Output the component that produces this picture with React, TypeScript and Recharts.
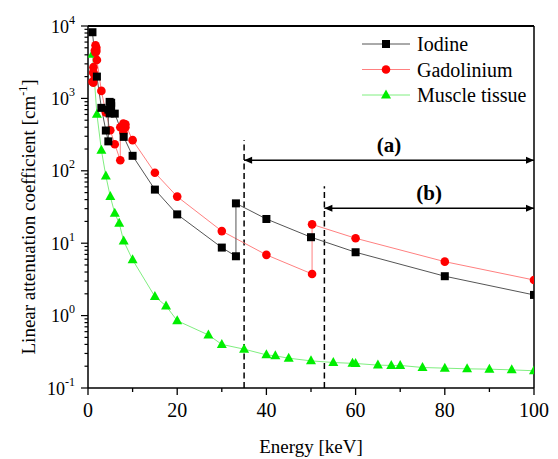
import { ComposedChart, Line, XAxis, YAxis, ReferenceLine } from "recharts";

// energies in keV, attenuation in cm^-1
const iodineE = [1, 2, 3, 4, 4.56, 4.56, 4.85, 4.85, 5.19, 5.19, 6, 8, 10, 15, 20, 30, 33.17, 33.17, 40, 50, 60, 80, 100];
const iodineMu = [8200, 2000, 740, 360, 255, 700, 620, 895, 780, 870, 616, 294, 161, 55, 25, 8.7, 6.6, 35.5, 21.6, 12.1, 7.5, 3.5, 1.93];

const gadoE = [1, 1.19, 1.19, 1.22, 1.22, 1.54, 1.54, 1.69, 1.69, 1.88, 1.88, 2, 3, 4, 5, 6, 7.24, 7.24, 7.93, 7.93, 8.38, 8.38, 10, 15, 20, 30, 40, 50.24, 50.24, 60, 80, 100];
const gadoMu = [1700, 1650, 2300, 2250, 2700, 2000, 4600, 4300, 5400, 4500, 5000, 3400, 1270, 640, 364, 233, 140, 400, 340, 450, 400, 440, 265, 94, 44, 14.7, 6.9, 3.76, 18.2, 11.7, 5.56, 3.1];

const muscleE = [1, 2, 3, 4, 5, 6, 7, 8, 10, 15, 17.5, 20, 27, 30, 35, 40, 42, 45, 50, 55, 59.3, 60, 65, 68, 70, 75, 80, 85, 90, 95, 100];
const muscleMu = [4080, 605, 193, 85, 44, 26, 18.8, 10.7, 5.9, 1.83, 1.36, 0.85, 0.54, 0.4, 0.344, 0.287, 0.278, 0.258, 0.237, 0.225, 0.219, 0.218, 0.207, 0.205, 0.205, 0.192, 0.188, 0.184, 0.182, 0.178, 0.173];

const xTicks = [0, 10, 20, 30, 40, 50, 60, 70, 80, 90, 100];
const yDecades = [-1, 0, 1, 2, 3];
const yTicks: number[] = [];
yDecades.forEach((d) => {
  for (let m = 1; m <= 9; m++) yTicks.push(m * Math.pow(10, d));
});
yTicks.push(10000);

const edgeA = 35;
const edgeB = 53;

const toRows = (e: number[], mu: number[]) => e.map((v, i) => ({ e: v, mu: mu[i] }));
const iodine = toRows(iodineE, iodineMu);
const gado = toRows(gadoE, gadoMu);
const muscle = toRows(muscleE, muscleMu);

const FONT = '"Liberation Serif", "Times New Roman", serif';

const XTick = (p: any) => {
  const { x, y, payload } = p;
  const major = payload.value % 20 === 0;
  return (
    <g>
      <line x1={x} y1={y} x2={x} y2={y + (major ? 7 : 4)} stroke="#000" strokeWidth={1.3} />
      {major && (
        <text x={x} y={y + 28.5} textAnchor="middle" fontFamily={FONT} fontSize={20} fill="#000">
          {payload.value}
        </text>
      )}
    </g>
  );
};

const YTick = (p: any) => {
  const { x, y, payload } = p;
  const lg = Math.log10(payload.value);
  const major = Math.abs(lg - Math.round(lg)) < 1e-6;
  return (
    <g>
      <line x1={x} y1={y} x2={x - (major ? 7 : 3.5)} y2={y} stroke="#000" strokeWidth={1.2} />
      {major && (
        <text x={x - 13} y={y + 6.5} textAnchor="end" fontFamily={FONT} fontSize={18} fill="#000">
          10
          <tspan dy={-9} fontSize={12}>
            {Math.round(lg)}
          </tspan>
        </text>
      )}
    </g>
  );
};

const squareDot = (p: any) => (
  <rect key={p.index} x={p.cx - 4} y={p.cy - 4} width={8} height={8} fill="#000" />
);
const circleDot = (p: any) => <circle key={p.index} cx={p.cx} cy={p.cy} r={4.3} fill="#ff0000" />;
const triDot = (p: any) => (
  <polygon
    key={p.index}
    points={`${p.cx},${p.cy - 5.5} ${p.cx - 5},${p.cy + 3.5} ${p.cx + 5},${p.cy + 3.5}`}
    fill="#00ee00"
  />
);

const makeArrow = (label: string) => (p: any) => {
  const { x1, y1, x2 } = p;
  return (
    <g>
      <line x1={x1} y1={y1} x2={x2} y2={y1} stroke="#000" strokeWidth={1.5} />
      <polygon points={`${x1},${y1} ${x1 + 8},${y1 - 3.5} ${x1 + 8},${y1 + 3.5}`} fill="#000" />
      <polygon points={`${x2},${y1} ${x2 - 8},${y1 - 3.5} ${x2 - 8},${y1 + 3.5}`} fill="#000" />
      <text x={(x1 + x2) / 2} y={y1 - 8} textAnchor="middle" fontFamily={FONT} fontWeight="bold" fontSize={21} fill="#000">
        {label}
      </text>
    </g>
  );
};

const legendItems = [
  { name: "Iodine", line: "#555555", kind: "square" },
  { name: "Gadolinium", line: "#ff8080", kind: "circle" },
  { name: "Muscle tissue", line: "#80ee80", kind: "tri" },
];

export default function App() {
  return (
    <div style={{ position: "absolute", left: 0, top: 0, width: 558, height: 459, background: "#fff" }}>
      <ComposedChart width={558} height={459} margin={{ top: 26, right: 24, bottom: 31, left: 0 }}>
        <XAxis
          type="number"
          dataKey="e"
          domain={[0, 100]}
          allowDataOverflow
          ticks={xTicks}
          interval={0}
          tickLine={false}
          tickSize={0}
          tickMargin={0}
          tick={XTick}
          height={40}
          axisLine={{ stroke: "#000", strokeWidth: 1.5 }}
        />
        <YAxis
          type="number"
          scale="log"
          domain={[0.1, 10000]}
          allowDataOverflow
          ticks={yTicks}
          interval={0}
          tickLine={false}
          tickSize={0}
          tickMargin={0}
          tick={YTick}
          width={88}
          axisLine={{ stroke: "#000", strokeWidth: 1.5 }}
        />
        <ReferenceLine y={10000} stroke="#000" strokeWidth={1.8} ifOverflow="visible" />
        <ReferenceLine x={100} stroke="#000" strokeWidth={1.5} ifOverflow="visible" />
        <ReferenceLine
          segment={[{ x: edgeA, y: 0.1 }, { x: edgeA, y: 265 }]}
          stroke="#000"
          strokeWidth={1.5}
          strokeDasharray="6 3.5"
          ifOverflow="visible"
        />
        <ReferenceLine
          segment={[{ x: edgeB, y: 0.1 }, { x: edgeB, y: 61 }]}
          stroke="#000"
          strokeWidth={1.5}
          strokeDasharray="6 3.5"
          ifOverflow="visible"
        />
        <ReferenceLine segment={[{ x: edgeA, y: 140 }, { x: 100, y: 140 }]} shape={makeArrow("(a)")} ifOverflow="visible" />
        <ReferenceLine segment={[{ x: edgeB, y: 30.3 }, { x: 100, y: 30.3 }]} shape={makeArrow("(b)")} ifOverflow="visible" />
        <Line data={muscle} dataKey="mu" type="linear" stroke="#80ee80" strokeWidth={1} dot={triDot} isAnimationActive={false} />
        <Line data={gado} dataKey="mu" type="linear" stroke="#ff8080" strokeWidth={1} dot={circleDot} isAnimationActive={false} />
        <Line data={iodine} dataKey="mu" type="linear" stroke="#555555" strokeWidth={1} dot={squareDot} isAnimationActive={false} />
      </ComposedChart>
      <svg
        width={558}
        height={459}
        style={{ position: "absolute", left: 0, top: 0, pointerEvents: "none" }}
      >
        {legendItems.map((it, i) => {
          const cy = 44 + i * 25.5;
          return (
            <g key={it.name}>
              <line x1={362} y1={cy} x2={410} y2={cy} stroke={it.line} strokeWidth={1} />
              {it.kind === "square" && <rect x={382} y={cy - 4} width={8} height={8} fill="#000" />}
              {it.kind === "circle" && <circle cx={386} cy={cy} r={4.3} fill="#ff0000" />}
              {it.kind === "tri" && (
                <polygon points={`386,${cy - 5.5} 381,${cy + 3.5} 391,${cy + 3.5}`} fill="#00ee00" />
              )}
              <text x={417} y={cy + 7} fontFamily={FONT} fontSize={20} fill="#000">
                {it.name}
              </text>
            </g>
          );
        })}
        <text x={311} y={453} textAnchor="middle" fontFamily={FONT} fontSize={19} fill="#000">
          Energy [keV]
        </text>
        <text
          x={35}
          y={217}
          transform="rotate(-90 35 217)"
          textAnchor="middle"
          fontFamily={FONT}
          fontSize={19}
          fill="#000"
        >
          Linear attenuation coefficient [cm
          <tspan dy={-8} fontSize={12}>-1</tspan>
          <tspan dy={8}>]</tspan>
        </text>
      </svg>
    </div>
  );
}
